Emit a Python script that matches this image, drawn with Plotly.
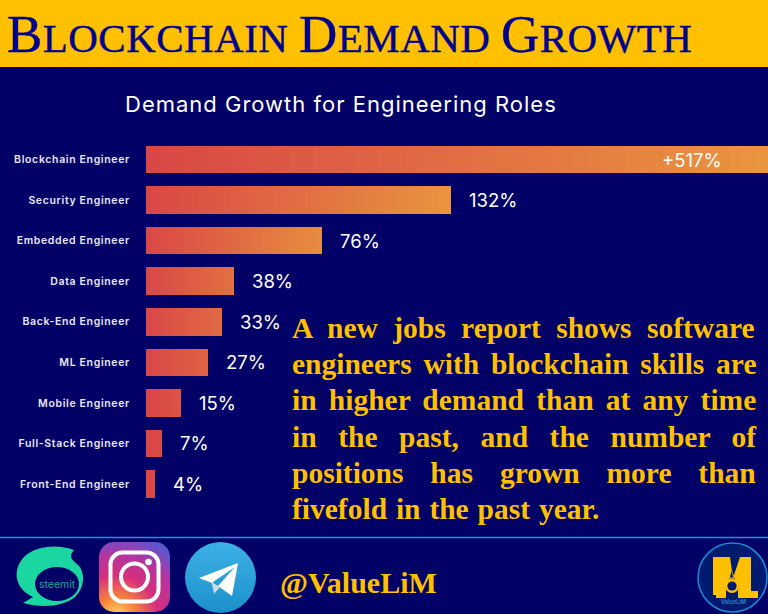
import base64
import plotly.graph_objects as go

# ---------- data ----------
roles = ["Blockchain Engineer", "Security Engineer", "Embedded Engineer", "Data Engineer",
         "Back-End Engineer", "ML Engineer", "Mobile Engineer", "Full-Stack Engineer", "Front-End Engineer"]
growth = [517, 132, 76, 38, 33, 27, 15, 7, 4]
growth_labels = ["+517%", "132%", "76%", "38%", "33%", "27%", "15%", "7%", "4%"]
axis_max = 269

heading = [("B", 53), ("LOCKCHAIN ", 41), ("D", 53), ("EMAND ", 41), ("G", 53), ("ROWTH", 41)]
subtitle = "Demand Growth for Engineering Roles"
handle = "@ValueLiM"
body_lines = [
    ("A new jobs report shows software", 8.0),
    ("engineers with blockchain skills are", 4.4),
    ("in higher demand than at any time", 4.8),
    ("in the past, and the number of", 14.2),
    ("positions has grown more than", 19.5),
    ("fivefold in the past year.", 1.5),
]

# ---------- style ----------
W, H = 768, 614
NAVY = "#000066"
GOLD = "#ffc000"
LEFT_RGB = (217, 70, 70)
RIGHT_RGB = (233, 148, 63)
LAYERS = 48


def px(x):
    return x / W


def py(y):
    return 1 - y / H


def end_mix(v):
    return 1 - 2.718281828 ** (-((v / 45) ** 1.5))


def mix(t):
    return "rgb(%d,%d,%d)" % tuple(round(a + (b - a) * t) for a, b in zip(LEFT_RGB, RIGHT_RGB))


fig = go.Figure()
visible = [min(v, axis_max) for v in growth]
for k in range(LAYERS, 0, -1):
    frac = k / LAYERS
    fig.add_trace(go.Bar(
        y=roles,
        x=[v * frac for v in visible],
        orientation="h",
        width=0.68,
        marker=dict(color=[mix(frac * end_mix(v)) for v in growth], line=dict(width=0)),
        hoverinfo="skip",
        showlegend=False,
    ))


def svg_uri(body, w, h):
    svg = f'<svg xmlns="http://www.w3.org/2000/svg" width="{w}" height="{h}" viewBox="0 0 {w} {h}">{body}</svg>'
    return "data:image/svg+xml;base64," + base64.b64encode(svg.encode()).decode()


def icon(body, x0, y0, x1, y1):
    return dict(source=svg_uri(body, x1 - x0, y1 - y0), xref="paper", yref="paper",
                x=px(x0), y=py(y0), sizex=(x1 - x0) / W, sizey=(y1 - y0) / H,
                xanchor="left", yanchor="top", sizing="stretch", layer="above")


steemit = ('<path fill="#1ad6a0" d="M59 5 C44 -1 20 0 8 13 C-3 26 0 44 18 52 L8 58 '
           'C26 63 48 62 60 52 C70 42 70 28 64 21 C59 16 52 13 59 5 Z"/>'
           '<ellipse cx="42" cy="39" rx="22" ry="17" fill="#000066"/>')
insta = ('<defs><radialGradient id="g" cx="0.25" cy="1.05" r="1.15">'
         '<stop offset="0" stop-color="#fdd36a"/><stop offset="0.22" stop-color="#f9873a"/>'
         '<stop offset="0.5" stop-color="#d62f7c"/><stop offset="0.75" stop-color="#b5349f"/>'
         '<stop offset="1" stop-color="#5d55cf"/></radialGradient></defs>'
         '<rect width="71" height="70" rx="15" fill="url(#g)"/>'
         '<rect x="11.5" y="10.5" width="48" height="49" rx="12" fill="none" stroke="#fff" stroke-width="4"/>'
         '<circle cx="35.5" cy="35" r="13.5" fill="none" stroke="#fff" stroke-width="4"/>'
         '<circle cx="49.5" cy="20" r="3.3" fill="#fff"/>')
telegram = ('<defs><linearGradient id="t" x1="0" y1="0" x2="0" y2="1"><stop offset="0" stop-color="#3cb0e6"/>'
            '<stop offset="1" stop-color="#1c90c9"/></linearGradient></defs>'
            '<circle cx="35.5" cy="35.5" r="35.5" fill="url(#t)"/>'
            '<path fill="#c8dbe8" d="M28 41 L29 52 L35 45 Z"/>'
            '<path fill="#ffffff" d="M53 21 L14 36 L27 41 L29 52 L28 40 L50 25 L33 44 L47 54 Z"/>')
logo = ('<circle cx="35.5" cy="35.5" r="34.5" fill="#001a70" stroke="#1a8ad4" stroke-width="1.5"/>'
        '<path fill="#ffc000" d="M16 15 L33 15 L36 36 L43 15 L54 15 L54 49 L61 49 L61 56 L41 56 L41 48 '
        'L35 28 L29 48 L29 56 L19 56 L19 53 L16 53 Z"/>'
        '<circle cx="35" cy="44" r="7" fill="#ffc000"/><circle cx="35" cy="44" r="4.6" fill="#001a70"/>')

annotations = []


def label(text, x, y, size, color, family, anchor="left", weight=None):
    annotations.append(dict(
        text=text, xref="paper", yref="paper", x=px(x), y=py(y), xanchor=anchor, yanchor="middle",
        showarrow=False, align=anchor,
        font=dict(size=size, color=color, family=family, **({"weight": weight} if weight else {})),
    ))


# main heading
heading_html = "".join(
    f'<span style="font-size:{s}px;letter-spacing:0.45px;stroke:#00008f;stroke-width:0.4px">{t}</span>'
    for t, s in heading)
label(heading_html, 5, 34, 41, "#00008f", "Liberation Serif")

# value labels, following each bar's end
for role, v, vis, text in zip(roles, growth, visible, growth_labels):
    if v > axis_max:
        annotations.append(dict(text=text, xref="paper", yref="y", x=px(692), y=role,
                                xanchor="center", yanchor="middle", showarrow=False,
                                font=dict(size=18.5, color="#ffffff", family="Inter")))
    else:
        annotations.append(dict(text=text, xref="x", yref="y", x=vis, y=role, xshift=16,
                                xanchor="left", yanchor="middle", showarrow=False,
                                font=dict(size=18.5, color="#ffffff", family="Inter")))

# paragraph
for i, (line, spacing) in enumerate(body_lines):
    html = f'<span style="word-spacing:{spacing}px">{line}</span>'
    label(html, 289.5, 328 + i * 36.2, 29.5, GOLD, "Liberation Serif", weight="bold")

label(handle, 278, 582, 30, GOLD, "Liberation Serif", weight="bold")
label("steemit", 57, 584, 10.5, "#17a98c", "Inter", anchor="center")
label("NL", 732, 579, 5, "#ffc000", "Inter", anchor="center", weight="bold")
label("ValueLiM", 733, 601, 5.5, "#2b7fc0", "Inter", anchor="center", weight="bold")

shapes = [
    dict(type="rect", xref="paper", yref="paper", x0=0, x1=1, y0=py(67), y1=1,
         fillcolor=GOLD, line=dict(width=0), layer="below"),
    dict(type="line", xref="paper", yref="paper", x0=0, x1=1, y0=py(537.5), y1=py(537.5),
         line=dict(color="#1e8fdc", width=1.5), layer="below"),
]

tick_html = [f'<span style="letter-spacing:0.65px">{r}</span>' for r in roles]

fig.update_layout(
    width=W, height=H, autosize=False,
    margin=dict(l=0, r=0, t=0, b=0),
    paper_bgcolor=NAVY, plot_bgcolor=NAVY,
    barmode="overlay",
    bargap=0.32,
    title=dict(text=f'<span style="letter-spacing:1px">{subtitle}</span>',
               x=px(125), y=py(104), xref="paper", yref="paper", xanchor="left", yanchor="middle",
               font=dict(size=22, color="#ffffff", family="Inter")),
    xaxis=dict(domain=[px(146), 1], range=[0, axis_max], visible=False),
    yaxis=dict(domain=[py(504.25), py(139.25)], autorange="reversed", categoryorder="array",
               categoryarray=roles, tickmode="array", tickvals=roles, ticktext=tick_html,
               ticks="outside", ticklen=13, tickcolor="rgba(0,0,0,0)", showline=False, showgrid=False,
               zeroline=False, tickfont=dict(size=10.5, color="#e8e8f4", family="Inter", weight=600)),
    shapes=shapes,
    annotations=annotations,
    images=[icon(steemit, 15, 545, 85, 608), icon(insta, 99, 542, 170, 612),
            icon(telegram, 185, 542, 256, 613), icon(logo, 697, 542, 768, 613)],
)

fig.write_html("out.html", config={"displayModeBar": False},
               post_script="document.body.style.margin='0';document.documentElement.style.overflow='hidden';"
                           "document.body.style.background='#000066';"
                           "document.querySelectorAll('.bars path').forEach(function(p){"
                           "p.style.shapeRendering='crispEdges';});")
